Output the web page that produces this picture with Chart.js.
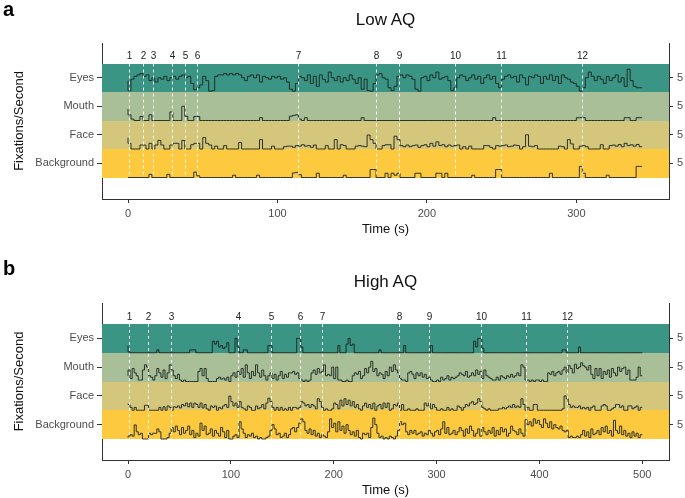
<!DOCTYPE html>
<html>
<head>
<meta charset="utf-8">
<script src="https://cdn.jsdelivr.net/npm/chart.js@4.4.1/dist/chart.umd.min.js"></script>
<style>
  body { margin: 0; background: #fff; width: 685px; height: 498px; position: relative; overflow: hidden;
         font-family: "Liberation Sans", Arial, sans-serif; }
  canvas { position: absolute; left: 0; }
  .lab { position: absolute; font-weight: bold; font-size: 20px; color: #000; }
  .ttl { position: absolute; left: 102px; width: 567px; text-align: center; font-size: 17px; color: #111; }
</style>
</head>
<body>
<canvas id="chartA" width="685" height="245" style="top:0"></canvas>
<canvas id="chartB" width="685" height="248" style="top:250px"></canvas>
<div class="lab" style="left:3px;top:-2px">a</div>
<div class="ttl" style="top:10px">Low AQ</div>
<div class="lab" style="left:3px;top:257px">b</div>
<div class="ttl" style="top:272px">High AQ</div>
<script>
// rows of the plot, bottom to top
var categories = ['Background', 'Face', 'Mouth', 'Eyes'];
var rightTickLabels = ['5', '5', '5', '5'];
var bandColors = ['#fdca3f', '#d4c77c', '#a9bf97', '#3b9585'];
var eventLabels = ['1', '2', '3', '4', '5', '6', '7', '8', '9', '10', '11', '12'];

// event times (s)
var eventsA = [0.5, 10, 17, 29.5, 38, 46.5, 114, 166, 181, 219, 249.5, 303.7];
var eventsB = [1, 19, 42, 107, 139, 167, 189, 263, 293, 343, 387, 427];

var xTicksA = [0, 100, 200, 300];
var xTicksB = [0, 100, 200, 300, 400, 500];

// samples every 2 s, fixations/second (band = 10)
var sampleStep = 2;

// ---- Low AQ ----
var eyesA = [
  4, 0.5, 4.5, 5.5, 6, 6.5, 5.5, 6, 4, 5,
  3.5, 5, 4.5, 5.5, 4, 5, 5.5, 4.5, 5.5, 6,
  5, 5.5, 3, 0.8, 1.5, 2.5, 5.5, 4, 0.3, 0.5,
  5.5, 6, 6, 6.5, 6, 6.5, 6, 6.5, 6, 5,
  4, 5.5, 6, 5, 6, 3.5, 5.5, 5, 4.5, 5.5,
  5, 5.5, 4.5, 5, 3.5, 1, 0.3, 3, 5.5, 5,
  4, 6, 3, 5.5, 2, 6, 4.5, 3.5, 7, 5,
  4, 5.5, 3.5, 5, 4, 6, 4.5, 3, 5, 1,
  4.5, 0.5, 0.3, 3, 6, 6.5, 5, 4.5, 1.5, 0.5,
  2, 5.5, 6, 5, 6, 5.5, 4.5, 1, 0.3, 5,
  5.5, 4, 6, 5, 7, 4.5, 5, 5.5, 4, 0.5,
  1.5, 5, 6, 5.5, 4, 5, 6, 4.5, 5.5, 3,
  5, 6, 4.5, 5.5, 3, 1.5, 4.5, 5.5, 6, 5,
  5.5, 3.5, 6, 5, 2.5, 5.5, 5, 6, 5.5, 3,
  5.5, 4.5, 6, 4, 5.5, 3, 6, 5, 4.5, 3.5,
  3, 2, 0.3, 1.5, 5, 7, 5.5, 4, 5.5, 4.5,
  3, 5.5, 4, 5, 6, 3.5, 5, 2, 8, 4,
  2, 1.5, 1.5
];
var mouthA = [
  4, 2, 0.5, 0, 0, 1.4, 0, 0, 2, 0,
  0, 0, 0, 0, 0, 3, 0, 0, 0, 5,
  1.5, 0, 0, 1.4, 1.4, 0, 0, 0, 0, 0,
  0, 0, 0, 0, 0, 0, 0, 0, 0, 0,
  0, 0, 0, 0, 0, 1, 0, 0, 0, 0,
  0, 0, 0, 0, 0, 1.5, 1.8, 2, 0.5, 0,
  1, 0, 0, 0, 0, 0, 0, 0, 0, 0,
  0, 0, 0, 0, 0, 0, 0, 0, 0, 1,
  0, 0, 0, 0, 0, 0, 0, 0, 0, 0,
  0, 0, 0, 0, 0, 0, 0, 0, 0, 0,
  0, 0, 0, 0, 0, 0, 0, 0, 0, 0,
  0, 0, 0, 0, 0, 0, 0, 0, 0, 0,
  0, 0, 0, 1, 0, 0, 0, 0, 0, 0,
  0, 0, 0, 0, 0, 0, 0, 0, 0, 0,
  0, 0, 0, 0, 0, 0, 0, 0, 0, 0,
  0, 1, 1, 1, 0, 0, 0, 0, 0, 0,
  0, 0, 0, 0, 0, 0, 0, 1, 1, 0,
  0, 1, 1
];
var faceA = [
  4, 2, 0, 0, 0, 1.4, 1.4, 0, 2, 0,
  1.4, 3, 1.4, 0, 0, 1.4, 2, 2, 0, 3,
  0, 0, 1.5, 2, 2, 0, 4, 2, 1.4, 0,
  1, 0, 0, 1.2, 0, 0, 0, 0, 2.3, 0,
  0, 0, 0, 0, 0, 3.3, 0, 0, 0, 1,
  0, 0, 0, 0.8, 1, 1, 0.6, 1.2, 1, 1.5,
  1, 1.2, 0.6, 1.4, 0, 0, 0, 1.2, 0, 0,
  3.3, 0, 1.5, 1.2, 0, 0, 0, 1, 1.2, 1,
  0.8, 4.9, 3.3, 2, 0, 0, 1.2, 1.5, 1.5, 0,
  4.5, 3.3, 1.2, 0.8, 1.4, 0.8, 1.2, 1.4, 0.6, 1.2,
  1.5, 0.8, 2, 1, 2.5, 1.2, 1.5, 0.8, 1.4, 1,
  1.2, 1.4, 0, 0.8, 0, 1, 0, 0, 0, 0,
  1.2, 1.2, 0.6, 0, 1.2, 1, 1.2, 1.4, 0.8, 1,
  1.4, 1.2, 0, 0.8, 5, 1, 0.8, 1.2, 0, 0,
  0, 0, 0, 0, 0, 1, 0.8, 0, 3.3, 1.8,
  0, 0, 1, 1.2, 0.8, 0, 0, 0, 0, 1.5,
  0, 0, 1.2, 1.4, 1, 1.6, 0.8, 2, 1.2, 1.5,
  1, 1.6, 0.8
];
var backgroundA = [
  0, 0, 0, 0, 0, 0, 0, 0, 1.1, 0,
  0, 0, 0, 0, 1.1, 0, 0, 0, 0, 0,
  0, 0, 0, 1.9, 0.6, 0, 0, 0, 0, 0,
  0, 0, 0, 0, 0, 0, 0.8, 0, 0, 0,
  0, 0, 0, 0, 0.8, 0, 0, 0, 0, 0,
  0, 0, 0, 0, 0, 0, 1.6, 1.8, 1, 0,
  0, 0, 0, 0, 1.5, 0, 0, 0, 0, 0,
  0, 0, 0, 0.8, 0, 0, 0, 0, 0, 0,
  0, 0, 2.8, 2.8, 0, 0, 0, 1.5, 0, 1.5,
  0.8, 1.5, 0, 0, 0, 0, 0, 1.5, 1.5, 0,
  0, 0, 0, 0, 1.5, 1.5, 0, 1.5, 0, 0,
  0, 0, 0, 0, 0, 0, 0.8, 0, 0, 0,
  0, 0, 0, 0, 2.8, 2.8, 0, 0, 0, 0,
  0, 0, 0, 0, 0, 0, 0, 0, 0, 0,
  0, 0, 1.5, 0, 0, 0, 0, 0, 0, 0,
  0, 0, 3.9, 1.5, 0, 0, 0, 0, 0, 0,
  0, 0.8, 0, 0, 0, 0, 0, 0, 0, 0,
  0, 3.9, 3.9
];

// ---- High AQ ----
var eyesB = [
  2.5, 0.3, 0, 0, 0, 0, 0, 0, 0, 0,
  0, 0, 0, 0, 0, 1, 0, 0, 0, 0,
  0, 0, 0, 0, 0, 0, 0, 0, 0, 0,
  0, 1, 1, 1, 0, 0, 0, 0, 0, 0,
  0, 0, 4, 3, 4, 2, 2.5, 1.5, 2, 3.5,
  0, 0, 0, 5, 2, 0, 0, 1, 1, 0,
  0, 0, 0, 0, 0, 0, 0, 0, 0, 2.5,
  2.5, 0, 0, 0, 0, 0, 0, 0, 0, 0,
  0, 0, 0, 5, 5, 2, 0, 0, 0, 0,
  0, 0, 0, 0, 0, 0, 0, 0, 0, 0,
  0, 0, 0, 2.5, 0, 0, 0, 3, 5, 2.5,
  3, 0, 0, 0, 0, 0, 0, 0, 0, 0,
  0, 0, 0, 1, 0, 0, 0, 0, 0, 0,
  0, 0, 0, 0, 0, 2.5, 0, 0, 0, 0,
  0, 0, 0, 0, 0, 0, 0, 0, 2.5, 0,
  0, 0, 0, 0, 0, 0, 0, 0, 0, 0,
  0, 0, 0, 0, 0, 0, 0, 0, 0, 4,
  2, 5, 5, 1.5, 0, 0, 0, 0, 0, 0,
  0, 0, 0, 0, 0, 0, 0, 0, 0, 0,
  0, 0, 0, 0, 0, 0, 0, 0, 0, 0,
  0, 0, 0, 0, 0, 0, 0, 0, 0, 0,
  0, 0, 1, 1, 0, 0, 0, 0, 0, 0,
  2, 0, 0, 0, 0, 0, 0, 0, 0, 0,
  0, 0, 0, 0, 0, 0, 0, 0, 0, 0,
  0, 0, 0, 0, 0, 0, 0, 0, 0, 0,
  0
];
var mouthB = [
  2, 4, 1, 4.5, 3, 2, 0.5, 0.5, 4, 5.8,
  5, 2, 1.5, 0.5, 2, 4.5, 3, 1.5, 4, 1,
  3, 5.8, 4, 2, 1, 2.5, 0.5, 0, 0.5, 0,
  0, 0, 0, 0, 0, 3.5, 4.5, 2, 4.5, 1,
  0, 0, 0, 0, 1, 1.5, 0.8, 1.2, 0.5, 1.5,
  0, 2, 3, 1.5, 3.5, 2.5, 4.5, 1.5, 5.8, 3,
  1, 3.5, 2, 5.8, 3, 1.5, 4, 2, 0.5, 2,
  3, 1, 2.5, 0.5, 2, 3.5, 1, 2.5, 1.5, 3,
  3, 3.5, 2.5, 3, 1, 0.5, 0, 0.5, 0, 0.5,
  3, 4, 2.5, 4.5, 3, 3.5, 5.8, 2, 2.5, 2,
  5, 1, 5, 0.5, 0.5, 0, 0, 0.5, 0, 0,
  2, 3, 2.5, 3.5, 1, 2, 4.5, 3, 5, 7,
  3.5, 4.5, 2, 3, 2.5, 1, 3.5, 2, 5, 3.5,
  5.8, 4, 3, 1, 0.5, 0.5, 0, 3, 3.5, 2.5,
  1, 3, 2, 3, 1.5, 2.5, 1, 1.5, 0.5, 0,
  0, 0.5, 0, 1.5, 0.5, 1, 2, 0.5, 1.5, 1,
  1.5, 2, 3, 2.5, 2, 3.5, 1.5, 2, 3, 2,
  4, 2.5, 3.5, 1, 4, 2, 1.5, 1, 0.5, 0.5,
  1.5, 0.5, 2, 1.5, 1, 2, 1.5, 2.5, 1.5, 2,
  3, 2, 5.8, 5, 0.5, 0.5, 0, 0.5, 0, 0.5,
  0.5, 0, 0.5, 0, 0, 3, 2.5, 3.5, 2, 3,
  3.5, 2.5, 4, 5, 3, 5.5, 4.5, 3, 6, 4.5,
  5, 6.5, 5.5, 5, 4, 5.5, 2.5, 1, 4.5, 2,
  4.5, 1, 3.5, 2.5, 4, 1.5, 4.5, 3, 2, 5,
  3.5, 4.5, 5, 2.5, 4, 0.5, 0.5, 0.5, 1.5, 5,
  2
];
var faceB = [
  2.3, 2, 1, 0, 1, 0, 0, 0, 0, 1.7,
  1.7, 0, 0, 0, 0, 0, 1, 0, 1.2, 0,
  1.5, 1, 0, 1.2, 1, 1.5, 0.8, 2, 1.5, 2.5,
  1.2, 2.5, 1, 2.5, 2, 1, 2.5, 0.8, 2, 0.5,
  0, 1.5, 1, 1.5, 0, 1, 0.5, 1.5, 2, 1,
  4.9, 3, 1.5, 2.5, 1, 3, 1, 0.5, 0, 1.5,
  1, 0, 0, 1.5, 0.5, 1, 2, 0.5, 2.5, 4.2,
  3, 1, 0, 1, 0, 1, 0, 0.5, 0, 1,
  0, 1, 1, 0.5, 1, 3, 2.5, 1.5, 2, 1,
  2, 1.5, 0.5, 4, 3, 1, 0, 0.5, 0, 0,
  0.5, 2.5, 2, 0.5, 3.5, 1.5, 4, 2, 3.5, 1.5,
  3, 1, 2, 0.5, 0, 1.5, 2.5, 1, 2, 0.5,
  2.5, 0, 1.5, 2, 0.5, 2.5, 1, 2.5, 0, 0.5,
  2, 1.5, 2.5, 0, 2, 0, 0, 0.5, 0, 0,
  0, 0.5, 0, 0, 0, 2.5, 1.5, 2.5, 0.5, 2,
  1, 0, 0, 0.5, 0, 0, 1, 0, 0.5, 0,
  0, 1.5, 1, 0, 1, 2, 1.5, 2.5, 3, 2,
  2.5, 4, 3, 1, 0.5, 0, 0.5, 0, 0, 0,
  0, 0.5, 0.5, 1, 0.5, 1, 1.5, 1, 2, 1,
  1.5, 1, 4, 2, 0, 1, 0, 0, 2, 2,
  0, 0, 0, 0, 0, 0, 0, 0, 0, 0,
  0, 0, 0.5, 5, 4, 2, 1, 1.5, 1, 1,
  1.5, 0.5, 1, 0.5, 1, 0, 1, 1.5, 0, 0,
  0, 1.5, 2, 1.5, 0, 0, 0.5, 1, 2, 2,
  1, 1.5, 0, 0, 1.5, 1.5, 0.5, 1, 1.5, 0,
  1
];
var backgroundB = [
  0.5, 1, 1.5, 1, 4.9, 2.5, 1.5, 2, 0, 0,
  0, 2, 1.5, 2, 2, 3.5, 2.5, 0, 0, 0,
  0.5, 2, 4, 2.5, 4.5, 3, 1.5, 4, 2, 3,
  4.5, 1.5, 3, 0.5, 2, 1, 5.5, 3, 4.5, 1.5,
  2, 3.5, 1, 3, 2, 1, 4, 2.5, 0.5, 3,
  0, 0, 1, 1.5, 0.5, 6, 3.5, 2, 0.5, 1.5,
  1, 2, 0.5, 1, 0, 0.5, 0, 0, 0.5, 1,
  3, 5, 3.5, 1.5, 2, 0.5, 1, 2, 0.5, 1.5,
  3.5, 4, 2.5, 4, 5.5, 7, 6, 3, 2, 3.5,
  1.5, 3, 1, 2, 0.5, 1.5, 1, 0.5, 2.5, 7,
  4, 5.5, 2.5, 6, 3, 4.5, 2, 5, 3, 1.5,
  2.5, 1, 3, 0.5, 0, 2, 1.5, 2, 0.5, 4,
  7.3, 5, 2, 0.5, 1, 0, 0.5, 0, 1, 0.5,
  0, 1, 3, 6, 5, 5.5, 2.5, 1.5, 3, 2,
  3, 1.5, 2, 2.5, 1, 2, 1.5, 3, 2, 1,
  2.5, 3, 1.5, 3.5, 6, 2, 4, 1.5, 2, 3,
  1.5, 2.5, 4, 3, 1, 3.5, 2, 4.5, 3, 1,
  2, 3.5, 1, 4, 2.5, 1.5, 3, 2, 4, 1,
  3, 1.5, 4, 2.5, 3.5, 1, 2, 4.5, 3, 2.5,
  1.5, 3.5, 2, 1, 6.7, 5, 6, 4.5, 7, 5.5,
  6.5, 5, 4, 7, 5.5, 4, 6, 3.5, 5, 4,
  3.5, 4.5, 3, 2.5, 3, 0.5, 1, 0.5, 0.5, 1,
  0.5, 1.5, 3, 1, 2.5, 0.5, 3.5, 1.5, 2, 3,
  1.5, 4, 2.5, 4.5, 2, 3, 1, 6.5, 3, 2,
  4.5, 1.5, 3, 1, 2, 0.5, 2.5, 1, 2, 0.5,
  1.5
];

Chart.defaults.font.family = '"Liberation Sans", Arial, sans-serif';

// stack each series on top of its band
function makeSeries(values, offset) {
  return values.map(function (v, i) {
    return { x: i * sampleStep, y: offset + v / 10 };
  });
}

var bandPlugin = {
  id: 'bands',
  beforeDatasetsDraw: function (chart) {
    var ctx = chart.ctx, area = chart.chartArea, y = chart.scales.y;
    ctx.save();
    for (var k = 0; k < categories.length; k++) {
      var top = Math.round(y.getPixelForValue(k + 1));
      var bot = Math.round(y.getPixelForValue(k));
      ctx.fillStyle = bandColors[k];
      ctx.fillRect(area.left, top, area.right - area.left, bot - top);
    }
    ctx.restore();
  },
  afterDatasetsDraw: function (chart, args, opts) {
    var ctx = chart.ctx, x = chart.scales.x, y = chart.scales.y;
    var top = y.getPixelForValue(categories.length), bot = y.getPixelForValue(0);
    ctx.save();
    ctx.strokeStyle = 'rgba(255,255,255,0.9)';
    ctx.lineWidth = 1;
    ctx.setLineDash([3, 3]);
    ctx.fillStyle = '#222';
    ctx.font = '10px "Liberation Sans", Arial, sans-serif';
    ctx.textAlign = 'center';
    ctx.textBaseline = 'middle';
    opts.events.forEach(function (t, i) {
      var px = Math.round(x.getPixelForValue(t)) + 0.5;
      ctx.beginPath();
      ctx.moveTo(px, top);
      ctx.lineTo(px, bot);
      ctx.stroke();
      ctx.fillText(eventLabels[i], px, top - 7);
    });
    ctx.restore();
  }
};

function buildChart(id, seriesList, events, xTicks, xMin, xMax, yMin, yMax, padTop, xAxisHeight, xTitlePad) {
  var datasets = seriesList.map(function (vals, k) {
    return {
      label: categories[k],
      data: makeSeries(vals, k),
      borderColor: 'rgba(25,35,30,0.9)',
      borderWidth: 1,
      pointRadius: 0,
      stepped: 'after',
      fill: false
    };
  });
  var tickFont = { size: 11 };
  new Chart(document.getElementById(id), {
    type: 'line',
    data: { datasets: datasets },
    plugins: [bandPlugin],
    options: {
      responsive: false,
      animation: false,
      layout: { padding: { top: padTop, left: 0, right: 0, bottom: 0 } },
      plugins: {
        legend: { display: false },
        tooltip: { enabled: false },
        bands: { events: events }
      },
      scales: {
        x: {
          type: 'linear', min: xMin, max: xMax,
          afterBuildTicks: function (s) { s.ticks = xTicks.map(function (v) { return { value: v }; }); },
          afterFit: function (s) { s.height = xAxisHeight; },
          grid: { drawOnChartArea: false, drawTicks: true, tickLength: 4, color: '#333' },
          border: { color: '#333', width: 1 },
          ticks: { color: '#4d4d4d', font: tickFont, padding: 4, maxRotation: 0 },
          title: { display: true, text: 'Time (s)', color: '#111', font: { size: 13 }, padding: { top: 0, bottom: xTitlePad } }
        },
        y: {
          position: 'left', min: yMin, max: yMax,
          afterBuildTicks: function (s) { s.ticks = categories.map(function (c, i) { return { value: i + 0.5 }; }); },
          afterFit: function (s) { s.width = 102; },
          grid: { drawOnChartArea: false, drawTicks: true, tickLength: 5, color: '#333' },
          border: { color: '#333', width: 1 },
          ticks: { color: '#4d4d4d', font: tickFont, padding: 3, callback: function (v, i) { return categories[i]; } },
          title: { display: true, text: 'Fixations/Second', color: '#111', font: { size: 13 }, padding: { top: 12, bottom: 0 } }
        },
        y2: {
          position: 'right', min: yMin, max: yMax,
          afterBuildTicks: function (s) { s.ticks = categories.map(function (c, i) { return { value: i + 0.5 }; }); },
          afterFit: function (s) { s.width = 16; },
          grid: { drawOnChartArea: false, drawTicks: true, tickLength: 4, color: '#333' },
          border: { color: '#333', width: 1 },
          ticks: { color: '#4d4d4d', font: tickFont, padding: 4, callback: function (v, i) { return rightTickLabels[i]; } }
        }
      }
    }
  });
}

buildChart('chartA', [backgroundA, faceA, mouthA, eyesA], eventsA, xTicksA,
  -17.4, 362, -0.754, 4.72, 43, 46, 8);
buildChart('chartB', [backgroundB, faceB, mouthB, eyesB], eventsB, xTicksB,
  -25.3, 526, -0.73, 4.73, 53, 38, 0);
</script>
</body>
</html>
